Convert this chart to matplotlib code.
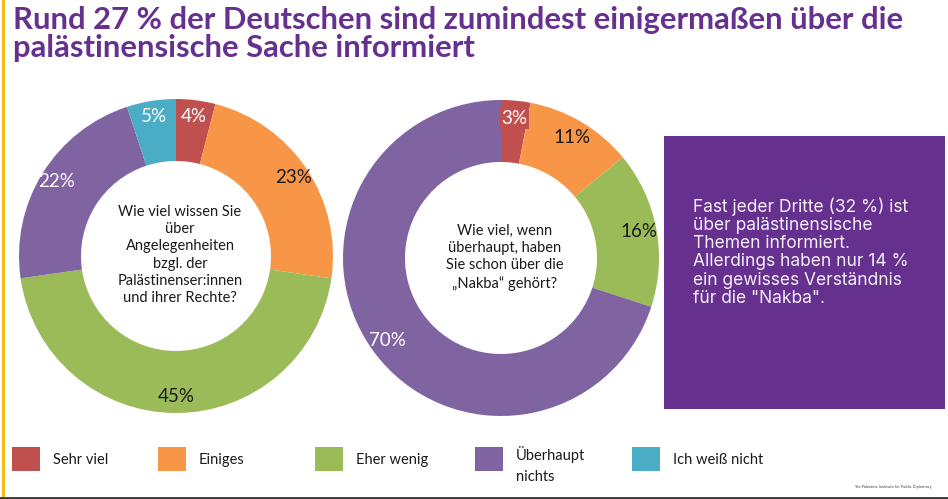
import numpy as np
import matplotlib.pyplot as plt
from matplotlib.patches import Rectangle

categories = ['Sehr viel', 'Einiges', 'Eher wenig', 'Überhaupt\nnichts', 'Ich weiß nicht']
colors = ['#C0504D', '#F79646', '#9BBB59', '#8064A2', '#4BACC6']

# Wissen über Angelegenheiten der Palästinenser:innen
werte_links = [4, 23, 45, 22, 5]
# Nakba
werte_rechts = [3, 11, 16, 70, 0]

label_farben_links = ['white', '#1a1a1a', '#1a1a1a', 'white', 'white']
label_farben_rechts = ['white', '#1a1a1a', '#1a1a1a', 'white', 'white']

frage_links = "Wie viel wissen Sie\nüber\nAngelegenheiten\nbzgl. der\nPalästinenser:innen\nund ihrer Rechte?"
frage_rechts = "Wie viel, wenn\nüberhaupt, haben\nSie schon über die\n\u201eNakba\u201c gehört?"

titel = "Rund 27 % der Deutschen sind zumindest einigermaßen über die\npalästinensische Sache informiert"
box_text = ("Fast jeder Dritte (32 %) ist\nüber palästinensische\nThemen informiert.\n"
            "Allerdings haben nur 14 %\nein gewisses Verständnis\nfür die \"Nakba\".")

W, H = 948, 499
lila = '#66308F'

fig = plt.figure(figsize=(W / 100, H / 100), dpi=100)
ax = fig.add_axes([0, 0, 1, 1])


def Y(py):
    return H - py


def donut(werte, cx, cy, R, breite, label_farben, frage, label_r, box_fuer=None):
    wedges, _ = ax.pie(werte, colors=colors, startangle=90, counterclock=False,
                       center=(cx, Y(cy)), radius=R,
                       wedgeprops=dict(width=breite, linewidth=0))
    for i, w in enumerate(wedges):
        if werte[i] == 0:
            continue
        ang = np.deg2rad((w.theta1 + w.theta2) / 2)
        x = cx + label_r * np.cos(ang)
        y = Y(cy) + label_r * np.sin(ang)
        bbox = None
        if box_fuer == i:
            bbox = dict(boxstyle='square,pad=0.1', fc=colors[i], ec='none')
        ax.text(x, y, f"{werte[i]}%", ha='center', va='center', fontsize=13.5,
                color=label_farben[i], family='Lato', bbox=bbox)
    ax.text(cx + 4, Y(cy) + 1, frage, ha='center', va='center', fontsize=10.5,
            family='Lato', color='#1a1a1a', linespacing=1.3)


donut(werte_links, 176, 256, 157, 62, label_farben_links, frage_links, 141)
donut(werte_rechts, 501, 258, 158, 62, label_farben_rechts, frage_rechts, 140, box_fuer=0)

# Titel
ax.text(13, Y(6), titel, ha='left', va='top', fontsize=22.3, fontweight='bold',
        family='Lato', color=lila, linespacing=1.0)

# Lila Box rechts
ax.add_patch(Rectangle((664, Y(409)), 281, 273, fc=lila, ec='none'))
ax.text(693, Y(252), box_text, ha='left', va='center', fontsize=12.5,
        family='Inter', color='#F4EEF8', linespacing=1.1)

# Legende
leg_x = [12, 158, 315, 475, 632]
for i, name in enumerate(categories):
    ax.add_patch(Rectangle((leg_x[i], Y(471)), 28, 24, fc=colors[i], ec='none'))
    ax.text(leg_x[i] + 41, Y(460) if '\n' not in name else Y(465), name, ha='left',
            va='center', fontsize=10.5, family='Lato', color='#1a1a1a', linespacing=1.6)

# Logo-Schriftzug
ax.text(893, Y(487), "The Palestine Institute for Public Diplomacy", ha='center',
        va='center', fontsize=2.5, color='#333333')

# Rahmenlinien
ax.plot([3, 3], [Y(0), Y(496)], color='#F5B700', lw=2)
ax.plot([0, W], [Y(497.5), Y(497.5)], color='#333333', lw=2)

ax.set_xlim(0, W)
ax.set_ylim(0, H)
ax.set_aspect('equal')
ax.axis('off')

fig.savefig('out.png', dpi=100, facecolor='white')
